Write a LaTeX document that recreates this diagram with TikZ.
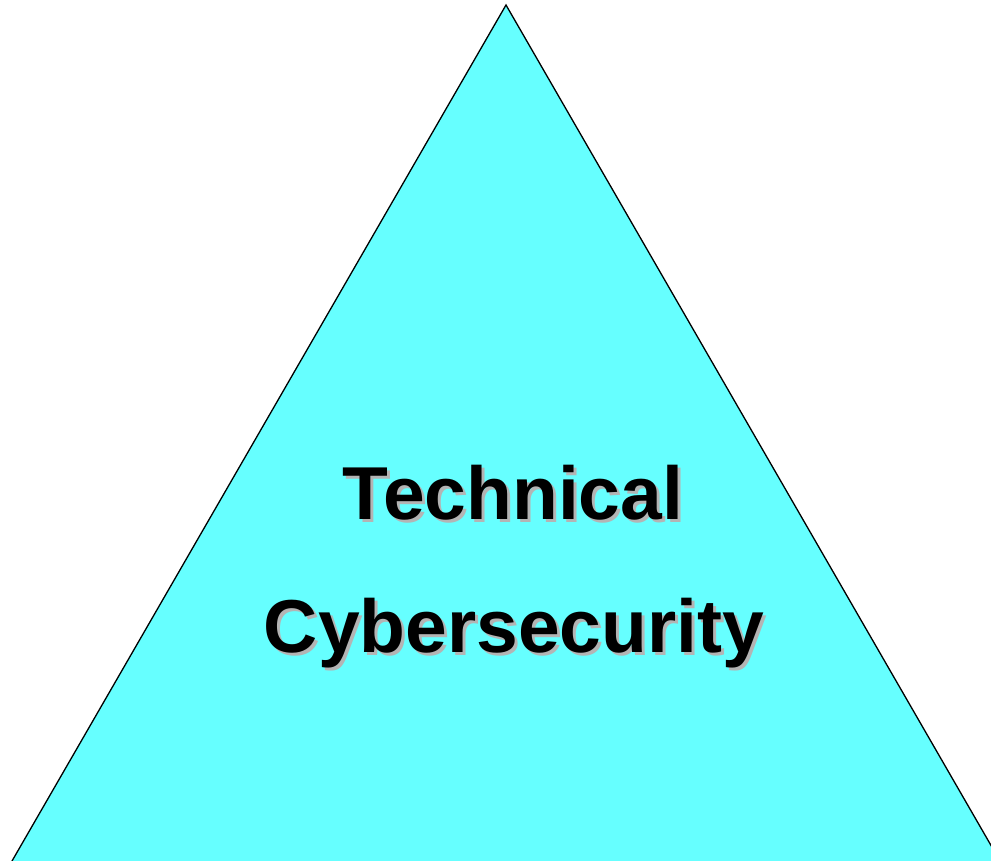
\documentclass[tikz,border=0pt]{standalone}
\usepackage{fontspec}
\setmainfont{Liberation Sans}
\usetikzlibrary{positioning}
\definecolor{pyrcyan}{HTML}{66FFFF}
\definecolor{shadowgray}{HTML}{B4B4B4}
\tikzset{
  pyr/.style={
    fill=pyrcyan,
    draw=black,
    line width=1.3pt,
    line join=miter
  },
  word/.style={
    anchor=base,
    inner sep=0pt,
    font=\bfseries\fontsize{75}{75}\selectfont
  },
  wordshadow/.style={
    word,
    text=shadowgray
  }
}

\begin{document}
\begin{tikzpicture}[x=1pt,y=-1pt,>=latex]
\useasboundingbox (0,0) rectangle (991,861);
\clip (0,0) rectangle (991,861);

\coordinate (apex) at (506,5);
\coordinate (baseL) at (-10.5,900);
\coordinate (baseR) at (1022.5,900);
\draw[pyr] (apex) -- (baseR) -- (baseL) -- cycle;

% gray copy first, black text on top
\node[wordshadow] (techShadow) at (516,522) {Technical};
\node[word] (tech) at (513,519) {Technical};
\node[wordshadow] (cyberShadow) at (517,655) {Cybersecurity};
\node[word] (cyber) at (514,652) {Cybersecurity};
\end{tikzpicture}
\end{document}
